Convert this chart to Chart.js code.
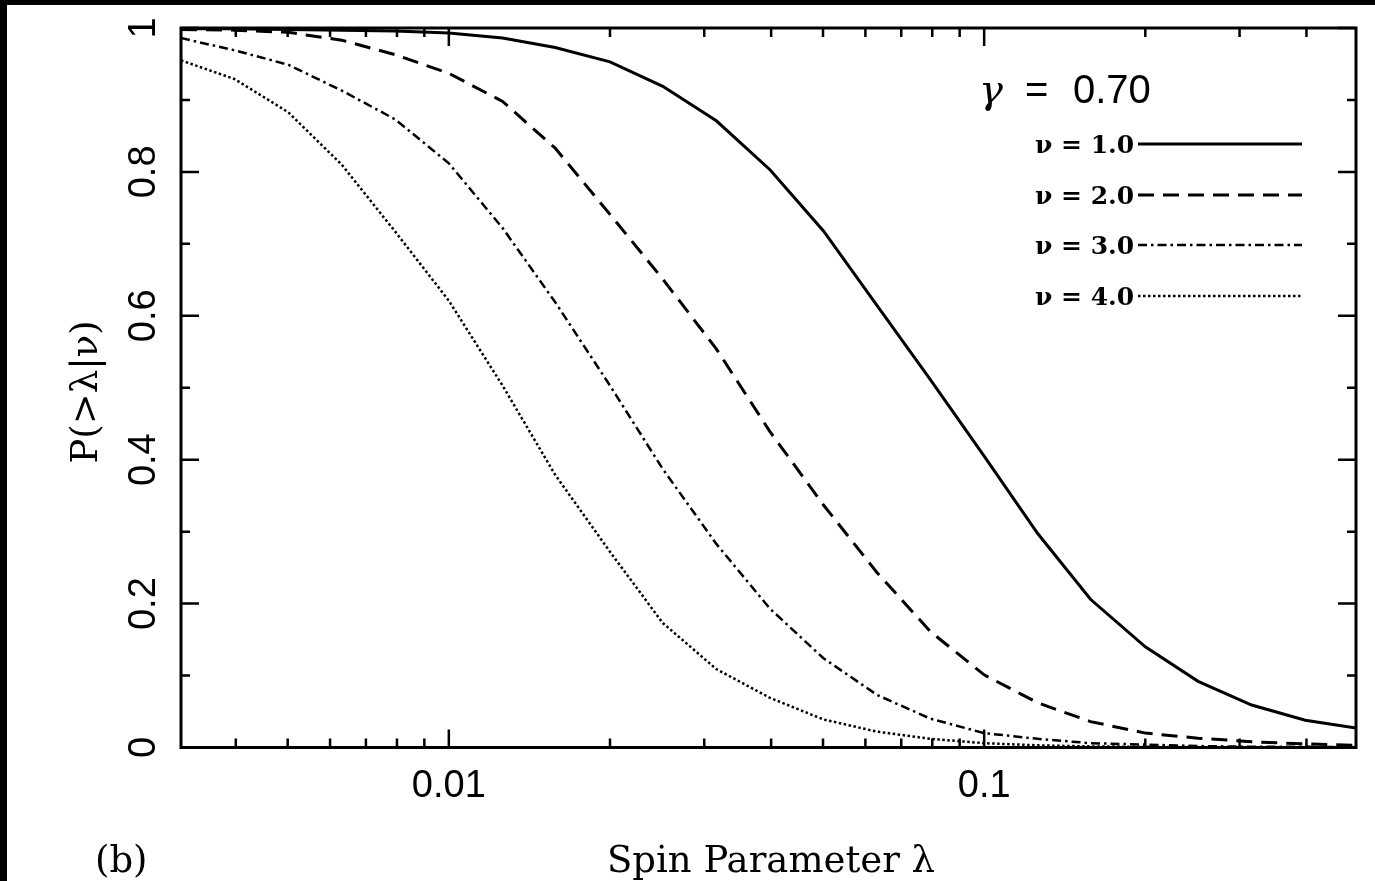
<!DOCTYPE html>
<html>
<head>
<meta charset="utf-8">
<script src="https://cdn.jsdelivr.net/npm/chart.js@4.4.1/dist/chart.umd.min.js"></script>
<style>
  html, body { margin: 0; padding: 0; background: #000; }
  #wrap { position: absolute; left: 7px; top: 5px; width: 1368px; height: 876px; background: #fff; }
</style>
</head>
<body>
<div id="wrap"><canvas id="spinChart" width="1368" height="876"></canvas></div>
<script>
// spin parameter lambda, log spaced
const lambdas = [0.00316, 0.00398, 0.00501, 0.00631, 0.00794, 0.01, 0.0126, 0.0158, 0.02, 0.0251,
  0.0316, 0.0398, 0.0501, 0.0631, 0.0794, 0.1, 0.126, 0.158, 0.2, 0.251, 0.316, 0.398, 0.495];

// P(>lambda|nu)
const nu1 = [0.999, 0.999, 0.998, 0.997, 0.996, 0.993, 0.986, 0.973, 0.953, 0.919, 0.871, 0.803,
  0.718, 0.614, 0.511, 0.405, 0.297, 0.206, 0.14, 0.092, 0.059, 0.038, 0.027];
const nu2 = [0.998, 0.997, 0.994, 0.983, 0.963, 0.937, 0.898, 0.833, 0.741, 0.651, 0.554, 0.439,
  0.337, 0.243, 0.161, 0.101, 0.062, 0.036, 0.02, 0.013, 0.008, 0.005, 0.003];
const nu3 = [0.986, 0.969, 0.949, 0.913, 0.873, 0.812, 0.722, 0.619, 0.503, 0.387, 0.283, 0.193,
  0.124, 0.073, 0.04, 0.02, 0.012, 0.006, 0.004, 0.002, 0.001, 0.001, 0.0005];
const nu4 = [0.955, 0.929, 0.883, 0.81, 0.717, 0.621, 0.503, 0.379, 0.272, 0.173, 0.109, 0.069,
  0.039, 0.022, 0.012, 0.006, 0.003, 0.0015, 0.001, 0.0005, 0.0003, 0.0002, 0.0001];

const seriesLabels = ["\u03bd = 1.0", "\u03bd = 2.0", "\u03bd = 3.0", "\u03bd = 4.0"];

// axis ticks
const xMajor = [0.01, 0.1];
const xMajorLabels = ["0.01", "0.1"];
const xMinor = [0.004, 0.005, 0.006, 0.007, 0.008, 0.009, 0.02, 0.03, 0.04, 0.05, 0.06, 0.07,
  0.08, 0.09, 0.2, 0.3, 0.4];
const yMajor = [0, 0.2, 0.4, 0.6, 0.8, 1];
const yMajorLabels = ["0", "0.2", "0.4", "0.6", "0.8", "1"];
const yMinor = [0.1, 0.3, 0.5, 0.7, 0.9];

function toPoints(arr) {
  return lambdas.map(function (l, i) { return { x: l, y: arr[i] }; });
}

const paperPlugin = {
  id: "paper",
  afterDatasetsDraw(chart) {
    const ctx = chart.ctx;
    const a = chart.chartArea;
    const xs = chart.scales.x;
    const ys = chart.scales.y;
    ctx.save();
    ctx.strokeStyle = "#000";
    ctx.fillStyle = "#000";

    // frame
    ctx.lineWidth = 3;
    ctx.strokeRect(a.left, a.top, a.right - a.left, a.bottom - a.top);

    // inward ticks on all four sides
    ctx.lineWidth = 2.5;
    ctx.beginPath();
    xMajor.concat(xMinor).forEach(function (v) {
      const len = xMajor.indexOf(v) >= 0 ? 18 : 9;
      const px = xs.getPixelForValue(v);
      ctx.moveTo(px, a.bottom); ctx.lineTo(px, a.bottom - len);
      ctx.moveTo(px, a.top); ctx.lineTo(px, a.top + len);
    });
    yMajor.concat(yMinor).forEach(function (v) {
      const len = yMajor.indexOf(v) >= 0 ? 18 : 9;
      const py = ys.getPixelForValue(v);
      ctx.moveTo(a.left, py); ctx.lineTo(a.left + len, py);
      ctx.moveTo(a.right, py); ctx.lineTo(a.right - len, py);
    });
    ctx.stroke();

    // x tick labels
    ctx.font = "38px 'Liberation Sans'";
    ctx.textAlign = "center";
    ctx.textBaseline = "alphabetic";
    xMajor.forEach(function (v, i) {
      ctx.fillText(xMajorLabels[i], xs.getPixelForValue(v), 792);
    });

    // y tick labels, rotated
    yMajor.forEach(function (v, i) {
      ctx.save();
      ctx.translate(148, ys.getPixelForValue(v));
      ctx.rotate(-Math.PI / 2);
      ctx.fillText(yMajorLabels[i], 0, 0);
      ctx.restore();
    });

    // axis titles
    ctx.font = "37px 'DejaVu Serif'";
    ctx.fillText("Spin Parameter \u03bb", 764, 867);
    ctx.textAlign = "left";
    ctx.fillText("(b)", 88, 867);
    ctx.save();
    ctx.translate(90, 387);
    ctx.rotate(-Math.PI / 2);
    ctx.textAlign = "center";
    ctx.fillText("P(>\u03bb|\u03bd)", 0, 0);
    ctx.restore();

    // gamma label
    ctx.textAlign = "left";
    ctx.font = "italic 40px 'DejaVu Serif'";
    ctx.fillText("\u03b3", 972, 98);
    ctx.font = "40px 'Liberation Sans'";
    ctx.fillText("=", 1018, 98);
    ctx.fillText("0.70", 1066, 98);

    // legend
    const rowBase = [148, 199, 249, 300];
    ctx.font = "bold 25px 'DejaVu Serif'";
    chart.data.datasets.forEach(function (ds, i) {
      ctx.fillText(seriesLabels[i], 1028, rowBase[i]);
      const ly = rowBase[i] - 9;
      ctx.save();
      ctx.lineWidth = ds.borderWidth;
      ctx.setLineDash(ds.borderDash || []);
      ctx.beginPath();
      ctx.moveTo(1131, ly);
      ctx.lineTo(1295, ly);
      ctx.stroke();
      ctx.restore();
    });

    ctx.restore();
  },
};

const ctx = document.getElementById("spinChart").getContext("2d");
const spinChart = new Chart(ctx, {
  type: "line",
  data: {
    datasets: [
      { label: seriesLabels[0], data: toPoints(nu1), borderColor: "#000", borderWidth: 3, borderDash: [] },
      { label: seriesLabels[1], data: toPoints(nu2), borderColor: "#000", borderWidth: 3, borderDash: [16, 9] },
      { label: seriesLabels[2], data: toPoints(nu3), borderColor: "#000", borderWidth: 2.5, borderDash: [9, 4, 2.5, 4] },
      { label: seriesLabels[3], data: toPoints(nu4), borderColor: "#000", borderWidth: 2.5, borderDash: [2.5, 2.5] },
    ],
  },
  options: {
    responsive: false,
    animation: false,
    devicePixelRatio: 1,
    layout: { padding: { left: 0, top: 23, right: 19, bottom: 0 } },
    elements: { point: { radius: 0 }, line: { tension: 0, fill: false } },
    plugins: { legend: { display: false }, tooltip: { enabled: false } },
    scales: {
      x: {
        type: "logarithmic",
        min: 0.00316,
        max: 0.495,
        grid: { display: false },
        border: { display: false },
        ticks: { display: false },
        afterFit: function (scale) { scale.height = 133.5; },
      },
      y: {
        type: "linear",
        min: 0,
        max: 1,
        grid: { display: false },
        border: { display: false },
        ticks: { display: false },
        afterFit: function (scale) { scale.width = 174; },
      },
    },
  },
  plugins: [paperPlugin],
});
</script>
</body>
</html>
